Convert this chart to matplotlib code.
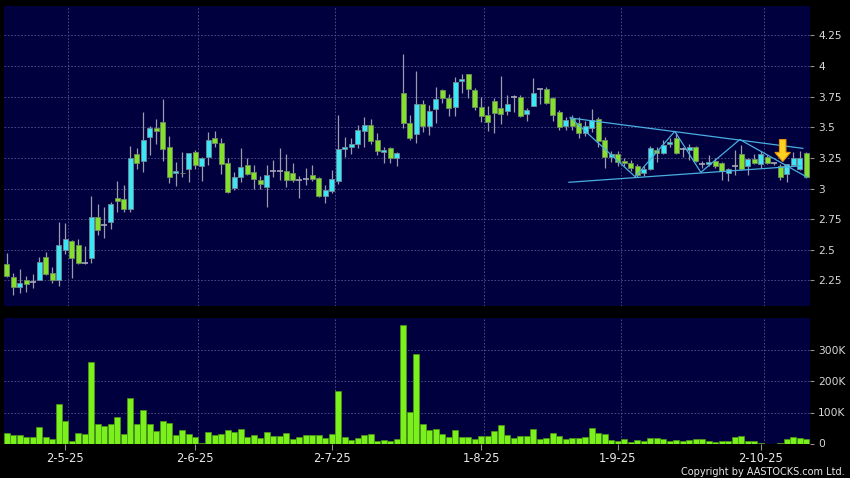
import numpy as np
import matplotlib
matplotlib.use('Agg')
import matplotlib.pyplot as plt
from matplotlib.patches import FancyArrow

# daily candles (left to right)
opens = [2.383, 2.275, 2.194, 2.251, 2.234, 2.253, 2.438, 2.308, 2.251, 2.50,
         2.574, 2.536, 2.394, 2.43, 2.765, 2.702, 2.724, 2.92, 2.912, 2.83,
         3.279, 3.224, 3.418, 3.491, 3.54, 3.341, 3.13, 3.13, 3.157, 3.298,
         3.184, 3.255, 3.41, 3.369, 3.206, 3.002, 3.096, 3.19, 3.137, 3.067,
         3.01, 3.145, 3.145, 3.143, 3.13, 3.07, 3.075, 3.11, 3.086, 2.94,
         2.982, 3.06, 3.32, 3.336, 3.36, 3.469, 3.516, 3.40, 3.30, 3.33,
         3.247, 3.777, 3.532, 3.443, 3.687, 3.513, 3.647, 3.804, 3.736, 3.668,
         3.875, 3.935, 3.804, 3.668, 3.597, 3.714, 3.655, 3.635, 3.745, 3.75,
         3.606, 3.676, 3.81, 3.81, 3.736, 3.622, 3.513, 3.578, 3.537, 3.455,
         3.49, 3.565, 3.396, 3.255, 3.28, 3.224, 3.206, 3.18, 3.13, 3.157,
         3.314, 3.287, 3.36, 3.41, 3.32, 3.314, 3.341, 3.198, 3.20, 3.227,
         3.206, 3.13, 3.186, 3.28, 3.186, 3.24, 3.20, 3.255, 3.206, 3.186,
         3.118, 3.19, 3.157, 3.287]
highs = [2.476, 2.308, 2.343, 2.286, 2.30, 2.438, 2.484, 2.362, 2.724, 2.716,
         2.58, 2.585, 2.53, 2.936, 2.873, 2.846, 2.89, 3.06, 3.03, 3.347,
         3.328, 3.622, 3.51, 3.565, 3.73, 3.43, 3.22, 3.30, 3.29, 3.314,
         3.26, 3.46, 3.47, 3.41, 3.247, 3.137, 3.328, 3.247, 3.19, 3.10,
         3.19, 3.23, 3.33, 3.28, 3.206, 3.10, 3.165, 3.19, 3.09, 3.03,
         3.15, 3.60, 3.42, 3.41, 3.52, 3.586, 3.565, 3.45, 3.34, 3.34,
         3.30, 4.098, 3.60, 3.96, 3.72, 3.68, 3.826, 3.81, 3.77, 3.908,
         3.935, 3.935, 3.82, 3.75, 3.673, 3.736, 3.918, 3.763, 3.76, 3.76,
         3.66, 3.90, 3.81, 3.83, 3.75, 3.64, 3.58, 3.60, 3.58, 3.55,
         3.646, 3.58, 3.42, 3.31, 3.31, 3.25, 3.23, 3.20, 3.18, 3.35,
         3.34, 3.40, 3.41, 3.45, 3.34, 3.36, 3.35, 3.226, 3.27, 3.25,
         3.22, 3.165, 3.314, 3.355, 3.25, 3.28, 3.31, 3.27, 3.22, 3.20,
         3.20, 3.30, 3.31, 3.30]
lows = [2.28, 2.13, 2.145, 2.158, 2.19, 2.25, 2.29, 2.23, 2.207, 2.465,
        2.27, 2.38, 2.38, 2.39, 2.618, 2.60, 2.667, 2.81, 2.81, 2.81,
        3.157, 3.137, 3.273, 3.36, 3.224, 3.047, 3.02, 3.09, 3.055, 3.157,
        3.064, 3.19, 3.34, 3.118, 2.96, 2.99, 3.055, 3.11, 3.0, 3.0,
        2.85, 3.09, 3.07, 3.01, 3.05, 2.92, 3.03, 3.065, 2.93, 2.88,
        2.96, 3.04, 3.26, 3.28, 3.33, 3.34, 3.36, 3.27, 3.206, 3.206,
        3.18, 3.49, 3.396, 3.374, 3.463, 3.437, 3.532, 3.696, 3.59, 3.59,
        3.777, 3.736, 3.64, 3.545, 3.47, 3.45, 3.527, 3.60, 3.627, 3.58,
        3.553, 3.67, 3.69, 3.69, 3.55, 3.48, 3.48, 3.48, 3.41, 3.43,
        3.46, 3.34, 3.165, 3.22, 3.18, 3.18, 3.14, 3.09, 3.10, 3.15,
        3.22, 3.28, 3.34, 3.28, 3.26, 3.233, 3.22, 3.17, 3.18, 3.17,
        3.07, 3.06, 3.11, 3.15, 3.11, 3.20, 3.165, 3.20, 3.196, 3.07,
        3.055, 3.18, 3.15, 3.083]
closes = [2.288, 2.194, 2.229, 2.218, 2.234, 2.398, 2.304, 2.251, 2.536, 2.585,
          2.435, 2.394, 2.394, 2.765, 2.662, 2.702, 2.873, 2.895, 2.83, 3.247,
          3.206, 3.40, 3.491, 3.467, 3.32, 3.09, 3.14, 3.125, 3.287, 3.19,
          3.251, 3.40, 3.369, 3.20, 2.971, 3.096, 3.178, 3.118, 3.078, 3.034,
          3.11, 3.145, 3.145, 3.067, 3.07, 3.07, 3.075, 3.075, 2.94, 2.986,
          3.075, 3.32, 3.336, 3.363, 3.478, 3.516, 3.385, 3.31, 3.314, 3.247,
          3.287, 3.532, 3.41, 3.687, 3.513, 3.633, 3.728, 3.736, 3.655, 3.867,
          3.89, 3.81, 3.668, 3.594, 3.545, 3.62, 3.606, 3.687, 3.745, 3.594,
          3.64, 3.777, 3.81, 3.696, 3.60, 3.505, 3.56, 3.513, 3.45, 3.513,
          3.56, 3.388, 3.255, 3.282, 3.22, 3.206, 3.165, 3.11, 3.157, 3.328,
          3.287, 3.355, 3.38, 3.293, 3.32, 3.341, 3.224, 3.198, 3.219, 3.186,
          3.143, 3.157, 3.186, 3.16, 3.237, 3.206, 3.28, 3.206, 3.206, 3.09,
          3.198, 3.25, 3.247, 3.096]
# volume in thousands of shares
volume_k = [35, 30, 29, 21, 21, 55, 23, 16, 126, 73,
            10, 36, 33, 259, 64, 56, 65, 87, 33, 145,
            63, 107, 65, 40, 74, 67, 27, 45, 32, 22,
            3, 39, 30, 31, 43, 38, 48, 22, 27, 18,
            39, 24, 24, 35, 15, 23, 27, 27, 27, 19,
            32, 167, 22, 14, 20, 27, 32, 11, 14, 11,
            16, 378, 103, 287, 62, 43, 49, 31, 22, 44,
            23, 22, 17, 24, 24, 40, 61, 29, 18, 24,
            24, 48, 17, 20, 36, 24, 16, 20, 20, 21,
            51, 35, 33, 12, 9, 16, 6, 13, 9, 19,
            20, 15, 10, 14, 9, 12, 15, 15, 11, 6,
            10, 10, 21, 24, 11, 11, 2, 1, 1, 4,
            17, 23, 18, 16]

date_labels = ['2-5-25', '2-6-25', '2-7-25', '1-8-25', '1-9-25', '2-10-25']
date_idx = [9, 29, 50, 73, 94, 116]
price_ticks = [2.25, 2.5, 2.75, 3, 3.25, 3.5, 3.75, 4, 4.25]
price_tick_labels = ['2.25', '2.5', '2.75', '3', '3.25', '3.5', '3.75', '4', '4.25']
vol_ticks = [0, 100, 200, 300]
vol_tick_labels = ['0', '100K', '200K', '300K']

# drawn pattern lines (bar index, price)
upper_line = [(86.7, 3.576), (122.5, 3.328)]
lower_line = [(86.5, 3.051), (122.1, 3.184)]
zigzag = [(86.7, 3.581), (96.7, 3.096), (102.8, 3.467), (106.8, 3.132),
          (112.8, 3.40), (123.1, 3.094)]
arrow_at = (119.4, 3.40, 3.22)

NAVY = '#00003f'
CYAN = '#3de6f5'
GREEN = '#84e02c'
GRID = '#55558a'

o = np.array(opens); h = np.array(highs); l = np.array(lows); c = np.array(closes)
x = np.arange(len(o))

fig = plt.figure(figsize=(8.5, 4.78), dpi=100, facecolor='black')
ax = fig.add_axes([4/850, 1 - 306/478, 806/850, 300/478], facecolor=NAVY)
axv = fig.add_axes([4/850, 1 - 444/478, 806/850, 126/478], facecolor=NAVY)

# price panel
ax.vlines(x, l, h, color='#9a9aaa', lw=0.9, zorder=2)
up = c > o
dn = c < o
eq = c == o
ax.bar(x[up], (c - o)[up], bottom=o[up], width=0.8, color=CYAN,
       edgecolor='#6f8c96', lw=0.6, zorder=3)
ax.bar(x[dn], (o - c)[dn], bottom=c[dn], width=0.8, color=GREEN,
       edgecolor='#6f8c60', lw=0.6, zorder=3)
ax.hlines(c[eq], x[eq] - 0.45, x[eq] + 0.45, color='#a8a8b8', lw=1.2, zorder=3)

for line in (upper_line, lower_line, zigzag):
    xs, ys = zip(*line)
    ax.plot(xs, ys, color='#4aaee0', lw=0.9, zorder=4)

ax.add_patch(FancyArrow(arrow_at[0], arrow_at[1], 0, arrow_at[2] - arrow_at[1],
                        width=1.0, head_width=2.4, head_length=0.075,
                        length_includes_head=True, fc='#ffd21f', ec='#e8900a',
                        lw=0.8, zorder=5))

ax.set_xlim(-0.42, 123.6)
ax.set_ylim(2.041, 4.49)
ax.set_yticks(price_ticks)
ax.set_yticklabels(price_tick_labels)

# volume panel
axv.bar(x, volume_k, width=0.9, color='#7cf01c', edgecolor='#4a9a12', lw=0.5, zorder=3)
axv.set_xlim(-0.42, 123.6)
axv.set_ylim(0, 400)
axv.set_yticks(vol_ticks)
axv.set_yticklabels(vol_tick_labels)
axv.set_xticks(date_idx)
axv.set_xticklabels(date_labels)

for a in (ax, axv):
    a.yaxis.tick_right()
    a.tick_params(axis='y', colors='#909090', labelcolor='#d8d8d8', length=3,
                  width=0.8, pad=3, labelsize=7.7)
    for s in a.spines.values():
        s.set_visible(False)
    a.grid(True, color=GRID, ls=(0, (2, 2)), lw=0.6, zorder=0)
    a.set_axisbelow(True)
    for xi in date_idx:
        a.axvline(xi + 0.5, color=GRID, ls=(0, (2, 2)), lw=0.6, zorder=0)
    a.xaxis.grid(False)

ax.set_xticks([])
axv.yaxis.grid(True)
axv.tick_params(axis='x', colors='#909090', labelcolor='#e8e8e8', length=4,
                width=0.8, pad=1.5, labelsize=8.3)
axv.get_yticklabels()[0].set_va('center')

fig.text(0.994, 1 - 472/478, 'Copyright by AASTOCKS.com Ltd.', ha='right', va='center',
         color='#e8e8e8', fontsize=7)

fig.savefig('out.png', dpi=100, facecolor='black')
